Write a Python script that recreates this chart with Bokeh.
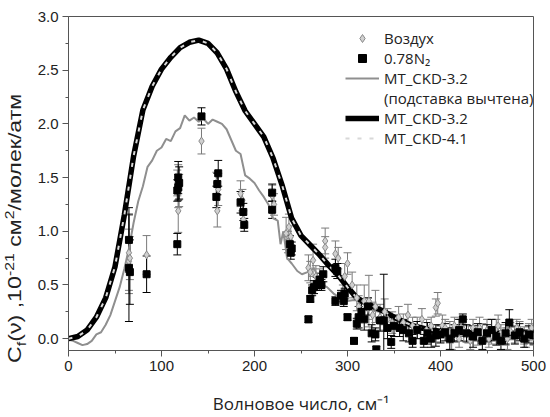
from bokeh.plotting import figure
from bokeh.layouts import row
from bokeh.models import (ColumnDataSource, Whisker, TeeHead, Legend, LegendItem,
                          Div, FixedTicker, Range1d, CustomJSTickFormatter)
from bokeh.embed import file_html
from bokeh.resources import INLINE

# ---------------- data ----------------
# MT_CKD-3.2 and MT_CKD-4.1 model curves
ckd_x = [0, 10, 20, 30, 40, 50, 60, 70, 80, 90, 100, 110, 120, 130, 140, 150, 160, 170, 180,
         190, 200, 210, 220, 230, 240, 250, 260, 270, 280, 290, 300, 310, 320, 330, 340, 350,
         360, 370, 380, 390, 400, 420, 440, 460, 480, 500]
ckd32_y = [0.0, 0.02, 0.08, 0.2, 0.38, 0.67, 1.15, 1.70, 2.13, 2.35, 2.51, 2.62, 2.71, 2.76,
           2.78, 2.75, 2.66, 2.51, 2.30, 2.12, 2.0, 1.88, 1.68, 1.42, 1.12, 0.96, 0.87, 0.78,
           0.68, 0.59, 0.48, 0.38, 0.33, 0.29, 0.25, 0.2, 0.16, 0.12, 0.1, 0.08, 0.07, 0.06,
           0.05, 0.05, 0.05, 0.05]
ckd41_y = [0.0, 0.02, 0.08, 0.2, 0.38, 0.67, 1.15, 1.70, 2.13, 2.35, 2.51, 2.62, 2.71, 2.76,
           2.78, 2.75, 2.66, 2.51, 2.30, 2.12, 2.0, 1.88, 1.68, 1.42, 1.12, 0.96, 0.87, 0.78,
           0.68, 0.59, 0.48, 0.38, 0.33, 0.29, 0.25, 0.2, 0.16, 0.12, 0.1, 0.08, 0.07, 0.06,
           0.05, 0.05, 0.05, 0.05]

# MT_CKD-3.2 with pedestal subtracted
sub_x = [0, 5, 10, 15, 20, 25, 30, 35, 40, 45, 50, 55, 60, 65, 70, 75, 80, 85, 90, 95, 100,
         105, 110, 115, 120, 125, 130, 135, 140, 145, 150, 155, 160, 165, 170, 175, 180, 185,
         190, 195, 200, 205, 210, 215, 220, 225, 228, 231, 235, 240, 246, 251, 257, 264, 271,
         278, 285, 292, 300, 307, 314, 321, 328, 335, 343, 350, 357, 365, 372, 380, 390, 400,
         420, 440, 460, 480, 500]
sub_y = [-0.01, -0.02, -0.04, -0.06, -0.05, -0.02, 0.04, 0.06, 0.13, 0.22, 0.35, 0.48, 0.65,
         0.84, 1.08, 1.28, 1.42, 1.60, 1.66, 1.75, 1.78, 1.86, 1.84, 1.93, 1.96, 2.08, 2.03,
         2.06, 2.02, 2.05, 2.0, 2.04, 2.02, 2.0, 1.95, 1.85, 1.75, 1.72, 1.52, 1.49, 1.45,
         1.38, 1.32, 1.25, 1.12, 1.10, 0.88, 1.0, 0.75, 0.70, 0.63, 0.60, 0.62, 0.66, 0.51,
         0.48, 0.42, 0.38, 0.35, 0.36, 0.35, 0.30, 0.26, 0.25, 0.23, 0.2, 0.17, 0.13, 0.11,
         0.09, 0.07, 0.06, 0.05, 0.04, 0.04, 0.04, 0.04]

# Air ("Воздух") measurements
air_x = [65, 65, 66, 84, 118, 118, 119, 117, 143, 160, 161, 159, 185, 187, 188, 219, 221,
         234, 237, 239, 236, 258, 260, 263, 266, 270, 276, 276, 287, 290, 297, 300, 295, 305,
         310, 312, 318, 322, 323, 327, 330, 335, 340, 343, 348, 355, 360, 365, 370, 375, 380,
         385, 390, 395, 397, 400, 402, 405, 410, 412, 415, 420, 422, 425, 430, 432, 435, 440,
         442, 445, 450, 452, 455, 460, 462, 465, 470, 472, 475, 480, 482, 485, 490, 492, 495,
         498, 500]
air_y = [0.80, 0.72, 0.75, 0.78, 1.19, 1.42, 1.38, 1.45, 1.84, 1.19, 1.39, 1.45, 1.35, 1.29,
         1.11, 1.33, 1.25, 0.98, 1.04, 0.95, 0.90, 0.66, 0.62, 0.73, 0.58, 0.55, 0.91, 0.85,
         0.79, 0.75, 0.58, 0.70, 0.42, 0.50, 0.38, 0.30, 0.35, 0.28, 0.35, 0.22, 0.30, 0.20,
         0.25, 0.18, 0.15, 0.20, 0.15, 0.22, 0.12, 0.10, 0.18, 0.08, 0.12, 0.29, 0.33, 0.05,
         0.12, 0.10, 0.06, 0.0, 0.12, 0.0, 0.10, 0.08, 0.04, -0.02, 0.10, 0.02, 0.10, 0.06,
         0.08, 0.0, 0.03, 0.10, 0.12, 0.05, 0.02, 0.0, 0.07, 0.04, 0.10, 0.08, 0.03, 0.0,
         0.06, 0.10, 0.02]
air_err = [0.35, 0.30, 0.20, 0.18, 0.20, 0.20, 0.15, 0.12, 0.12, 0.15, 0.15, 0.10, 0.12, 0.10,
           0.08, 0.10, 0.10, 0.15, 0.12, 0.10, 0.10, 0.12, 0.10, 0.15, 0.10, 0.10, 0.12, 0.10,
           0.12, 0.10, 0.12, 0.10, 0.08, 0.12, 0.12, 0.10, 0.15, 0.10, 0.24, 0.12, 0.15, 0.12,
           0.12, 0.10, 0.10, 0.10, 0.08, 0.10, 0.08, 0.10, 0.10, 0.10, 0.08, 0.08, 0.10, 0.08,
           0.10, 0.08, 0.10, 0.10, 0.08, 0.08, 0.08, 0.10, 0.08, 0.08, 0.08, 0.08, 0.10, 0.08,
           0.10, 0.08, 0.08, 0.08, 0.10, 0.08, 0.08, 0.10, 0.08, 0.08, 0.08, 0.08, 0.08, 0.08,
           0.08, 0.08, 0.08]

# 0.78 N2 measurements
n2_x = [65, 65, 66, 84, 118, 118, 119, 117, 117, 143, 161, 160, 159, 185, 188, 189, 219, 219,
        239, 238, 240, 258, 260, 262, 264, 267, 270, 274, 272, 287, 289, 287, 296, 300, 293,
        297, 307, 307, 310, 312, 315, 318, 322, 326, 330, 331, 335, 339, 343, 347, 350, 356,
        360, 366, 370, 375, 378, 382, 386, 390, 395, 397, 400, 405, 410, 415, 420, 424, 428,
        435, 440, 445, 450, 455, 460, 465, 470, 474, 480, 485, 490, 495, 500]
n2_y = [0.92, 0.66, 0.62, 0.60, 1.50, 1.41, 1.45, 1.38, 0.88, 2.07, 1.54, 1.44, 1.32, 1.27,
        1.18, 1.06, 1.36, 1.20, 0.80, 0.88, 0.84, 0.18, 0.37, 0.45, 0.48, 0.51, 0.55, 0.60,
        0.50, 0.66, 0.63, 0.35, 0.35, 0.20, 0.40, 0.42, -0.02, -0.18, 0.14, 0.20, 0.25, 0.18,
        0.30, 0.05, 0.04, -0.10, 0.17, 0.17, 0.10, -0.03, 0.12, 0.10, 0.08, 0.05, -0.02, 0.08,
        -0.18, -0.02, 0.05, 0.0, 0.03, -0.18, 0.04, 0.06, 0.0, 0.05, 0.08, 0.18, 0.05, 0.02,
        0.06, -0.02, 0.05, 0.08, 0.02, -0.02, 0.05, 0.15, 0.03, 0.06, 0.0, 0.04, 0.03]
n2_err = [0.30, 0.50, 0.30, 0.17, 0.15, 0.12, 0.15, 0.10, 0.10, 0.08, 0.12, 0.10, 0.10, 0.10,
          0.08, 0.06, 0.08, 0.08, 0.06, 0.08, 0.06, 0.03, 0.03, 0.05, 0.06, 0.06, 0.06, 0.07,
          0.05, 0.08, 0.07, 0.04, 0.05, 0.03, 0.05, 0.05, 0.03, 0.03, 0.05, 0.10, 0.08, 0.10,
          0.08, 0.08, 0.06, 0.03, 0.10, 0.43, 0.10, 0.06, 0.10, 0.08, 0.10, 0.08, 0.06, 0.08,
          0.03, 0.06, 0.10, 0.08, 0.10, 0.03, 0.08, 0.08, 0.10, 0.08, 0.10, 0.05, 0.08, 0.10,
          0.08, 0.08, 0.08, 0.10, 0.08, 0.08, 0.10, 0.12, 0.08, 0.08, 0.08, 0.08, 0.08]

x_ticks = [0, 100, 200, 300, 400, 500]
y_ticks = [0.0, 0.5, 1.0, 1.5, 2.0, 2.5, 3.0]

# ---------------- figure ----------------
p = figure(width=520, height=417, output_backend="svg", toolbar_location=None,
           x_range=Range1d(0, 500), y_range=Range1d(-0.11, 3.0),
           min_border_left=38, min_border_right=17, min_border_top=16, min_border_bottom=67)
p.background_fill_color = "white"
p.border_fill_color = "white"
p.grid.visible = False
p.outline_line_color = "#555555"
p.outline_line_width = 1

p.xaxis.ticker = FixedTicker(ticks=x_ticks, minor_ticks=[50, 150, 250, 350, 450])
p.yaxis.ticker = FixedTicker(ticks=y_ticks, minor_ticks=[0.25, 0.75, 1.25, 1.75, 2.25, 2.75])
p.yaxis.formatter = CustomJSTickFormatter(code="return tick.toFixed(1);")
for ax in (p.xaxis, p.yaxis):
    ax.axis_line_color = "#555555"
    ax.major_tick_line_color = "#555555"
    ax.minor_tick_line_color = "#555555"
    ax.major_tick_out = 6
    ax.major_tick_in = 0
    ax.minor_tick_out = 3
    ax.minor_tick_in = 0
    ax.major_label_text_font = "Liberation Sans"
    ax.major_label_text_font_size = "15px"
    ax.major_label_text_color = "#222222"
    ax.major_label_standoff = 4

p.xaxis.axis_label = "Волновое число, см⁻¹"
p.xaxis.axis_label_text_font = "Open Sans"
p.xaxis.axis_label_text_font_size = "17px"
p.xaxis.axis_label_text_font_style = "normal"
p.xaxis.axis_label_text_color = "#222222"
p.xaxis.axis_label_standoff = 18

# curves
r_sub = p.line(sub_x, sub_y, line_color="#8f8f8f", line_width=2)
r_32 = p.line(ckd_x, ckd32_y, line_color="black", line_width=5.5)
r_41 = p.line(ckd_x, ckd41_y, line_color="#d8d8d8", line_width=2, line_dash="4 8")
r_dummy = p.line([], [], line_alpha=0)

# air
air_src = ColumnDataSource(dict(x=air_x, y=air_y,
                                lo=[a - e for a, e in zip(air_y, air_err)],
                                hi=[a + e for a, e in zip(air_y, air_err)]))
p.add_layout(Whisker(source=air_src, base="x", lower="lo", upper="hi", line_color="#7a7a7a",
                     line_width=1,
                     lower_head=TeeHead(size=8, line_color="#7a7a7a", line_width=1),
                     upper_head=TeeHead(size=8, line_color="#7a7a7a", line_width=1)))
r_air = p.scatter("x", "y", source=air_src, marker="diamond", size=8,
                  fill_color="#d0d0d0", line_color="#8a8a8a", line_width=1)

# N2
n2_src = ColumnDataSource(dict(x=n2_x, y=n2_y,
                               lo=[a - e for a, e in zip(n2_y, n2_err)],
                               hi=[a + e for a, e in zip(n2_y, n2_err)]))
p.add_layout(Whisker(source=n2_src, base="x", lower="lo", upper="hi", line_color="black",
                     line_width=1,
                     lower_head=TeeHead(size=8, line_color="black", line_width=1),
                     upper_head=TeeHead(size=8, line_color="black", line_width=1)))
r_n2 = p.scatter("x", "y", source=n2_src, marker="square", size=7,
                 fill_color="black", line_color="black")

legend = Legend(items=[
    LegendItem(label="Воздух", renderers=[r_air]),
    LegendItem(label="0.78N₂", renderers=[r_n2]),
    LegendItem(label="MT_CKD-3.2", renderers=[r_sub]),
    LegendItem(label="(подставка вычтена)", renderers=[r_dummy]),
    LegendItem(label="MT_CKD-3.2", renderers=[r_32]),
    LegendItem(label="MT_CKD-4.1", renderers=[r_41]),
], location=(277, 202))
legend.border_line_color = None
legend.background_fill_alpha = 0
legend.padding = 0
legend.margin = 0
legend.spacing = 0
legend.glyph_width = 34
legend.glyph_height = 20
legend.label_height = 20
legend.label_standoff = 5
legend.label_text_font = "Open Sans"
legend.label_text_font_size = "15px"
legend.label_text_color = "#222222"
p.add_layout(legend, "center")

# y-axis label (rotated, with sub/superscripts) in a narrow column left of the plot
ylabel_html = (
    '<div style="position:absolute; left:4px; top:363px; transform-origin:0 0; '
    'transform:rotate(-90deg) scaleX(1.22); white-space:nowrap; '
    "font-family:'Liberation Sans', Arial, sans-serif; font-size:19px; line-height:22px; "
    'color:#222222;">'
    'C<sub style="font-size:13px; line-height:0">f</sub>(ν) ,10'
    '<sup style="font-size:13px; line-height:0">-21</sup> см'
    '<sup style="font-size:13px; line-height:0">2</sup>/молек/атм</div>'
)
ylab = Div(text=ylabel_html, width=30, height=417, margin=(0, 0, 0, 0),
           styles={"position": "relative", "overflow": "visible"})

layout = row(ylab, p, spacing=0)
open("out.html", "w").write(file_html(layout, INLINE))
